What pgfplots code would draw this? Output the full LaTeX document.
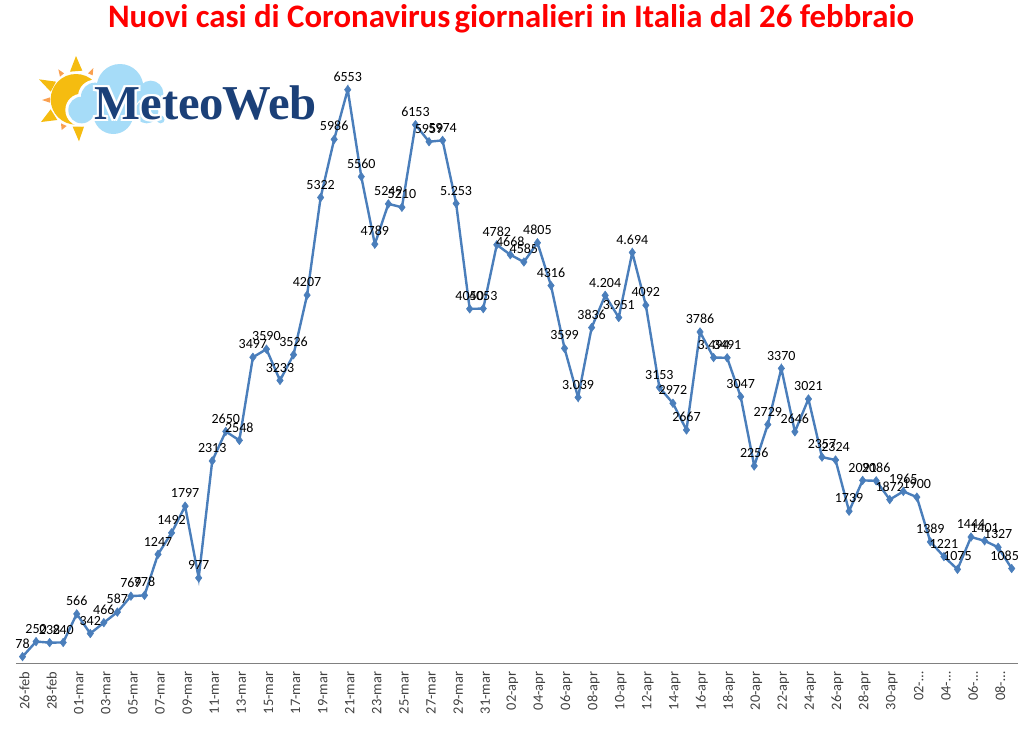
\documentclass[border=0pt]{standalone}
\usepackage{pgfplots}
\pgfplotsset{compat=1.18}
\usepackage{pgfplotstable}
\usepackage{fontspec}
\setmainfont{Carlito}
\newfontfamily\logofont{Liberation Serif}
\definecolor{serie}{RGB}{74,126,187}
\definecolor{cloud}{RGB}{166,220,248}
\definecolor{sun}{RGB}{245,188,16}
\definecolor{ray}{RGB}{250,160,80}
\definecolor{logoblue}{RGB}{27,64,120}
\pgfplotstableread{
i v l
0 78 78
1 250 250
2 238 238
3 240 240
4 566 566
5 342 342
6 466 466
7 587 587
8 769 769
9 778 778
10 1247 1247
11 1492 1492
12 1797 1797
13 977 977
14 2313 2313
15 2650 2650
16 2548 2548
17 3497 3497
18 3590 3590
19 3233 3233
20 3526 3526
21 4207 4207
22 5322 5322
23 5986 5986
24 6553 6553
25 5560 5560
26 4789 4789
27 5249 5249
28 5210 5210
29 6153 6153
30 5959 5959
31 5974 5974
32 5253 5.253
33 4050 4050
34 4053 4053
35 4782 4782
36 4668 4668
37 4585 4585
38 4805 4805
39 4316 4316
40 3599 3599
41 3039 3.039
42 3836 3836
43 4204 4.204
44 3951 3.951
45 4694 4.694
46 4092 4092
47 3153 3153
48 2972 2972
49 2667 2667
50 3786 3786
51 3494 3.494
52 3491 3491
53 3047 3047
54 2256 2256
55 2729 2729
56 3370 3370
57 2646 2646
58 3021 3021
59 2357 2357
60 2324 2324
61 1739 1739
62 2091 2091
63 2086 2086
64 1872 1872
65 1965 1965
66 1900 1900
67 1389 1389
68 1221 1221
69 1075 1075
70 1444 1444
71 1401 1401
72 1327 1327
73 1085 1085
}\datatable
\begin{document}
\begin{tikzpicture}[x=0.75pt,y=-0.75pt]
\path[use as bounding box] (0,0) rectangle (1022,729);
\node[text=red,font=\fontsize{24.6}{28}\selectfont\bfseries,inner sep=0pt] at (511,19)
  {Nuovi casi di Coronavirus\hspace{-0.1em} giornalieri in Italia dal 26 febbraio};
% logo
\begin{scope}[shift={(0,40)},x=0.25pt,y=-0.25pt]
\fill[sun] (228,178) circle (76);
\fill[sun] (228,48)--(210,95)--(247,92)--cycle;
\fill[ray] (175,88)--(192,100)--(180,110)--cycle;
\fill[ray] (280,84)--(264,100)--(278,106)--cycle;
\fill[sun] (117,118)--(168,125)--(152,155)--cycle;
\fill[ray] (126,180)--(150,172)--(150,188)--cycle;
\fill[sun] (123,246)--(152,208)--(172,240)--cycle;
\fill[ray] (185,270)--(183,250)--(200,258)--cycle;
\fill[sun] (237,304)--(218,260)--(252,260)--cycle;
\foreach \col/\d in {white/9,cloud/0}{
\fill[\col] (360,142) circle ({70+\d});
\fill[\col] (452,160) circle ({38+\d});
\fill[\col] (245,210) circle ({40+\d});
\fill[\col] (285,170) circle ({42+\d});
\fill[\col] (340,222) circle ({60+\d});
\fill[\col] (440,215) circle ({35+\d});
\fill[\col] (482,238) circle ({12+\d});
}
\foreach \dx/\dy in {-7/0,7/0,0/-7,0/7,-5/-5,5/5,-5/5,5/-5}{
\node[anchor=base west,inner sep=0pt,text=white,font=\logofont\fontsize{36.5}{36}\selectfont\bfseries]
  at ({283+\dx},{238+\dy}) {Meteo\kern-0.04em Web};
}
\node[anchor=base west,inner sep=0pt,text=logoblue,font=\logofont\fontsize{36.5}{36}\selectfont\bfseries]
  at (283,238) {Meteo\kern-0.04em Web};
\end{scope}
\begin{axis}[
  anchor=origin, at={(16.9pt,-497.6pt)},
  x=10.1625pt, y=0.06568pt,
  xmin=-0.5, xmax=73.5, ymin=0, ymax=7000,
  axis x line=bottom, axis y line=none,
  axis line style={draw=black!50,line width=0.8pt,-},
  xtick={0,2,...,72},
  xticklabels={26-feb,28-feb,01-mar,03-mar,05-mar,07-mar,09-mar,11-mar,13-mar,15-mar,17-mar,19-mar,21-mar,23-mar,25-mar,27-mar,29-mar,31-mar,02-apr,04-apr,06-apr,08-apr,10-apr,12-apr,14-apr,16-apr,18-apr,20-apr,22-apr,24-apr,26-apr,28-apr,30-apr,02-\dots,04-\dots,06-\dots,08-\dots},
  xtick style={draw=none},
  xticklabel style={rotate=90,anchor=east,font=\fontsize{10.8}{12}\selectfont,text=black!75,inner sep=0pt,yshift=-1.5pt},
  tick align=outside, major tick length=6pt,
  clip=false,
  nodes near coords,
  point meta=explicit symbolic,
  nodes near coords style={font=\fontsize{10.5}{12}\selectfont,text=black,anchor=south,inner sep=0pt,yshift=6pt},
  coordinate style/.condition={x>72.5}{xshift=-5.25pt},
]
\addplot[color=serie,line width=1.8pt,mark=diamond*,mark size=3.2pt,mark options={fill=serie,draw=serie,line width=0.4pt}]
  table[x=i,y=v,meta=l] {\datatable};
\end{axis}
\end{tikzpicture}
\end{document}
